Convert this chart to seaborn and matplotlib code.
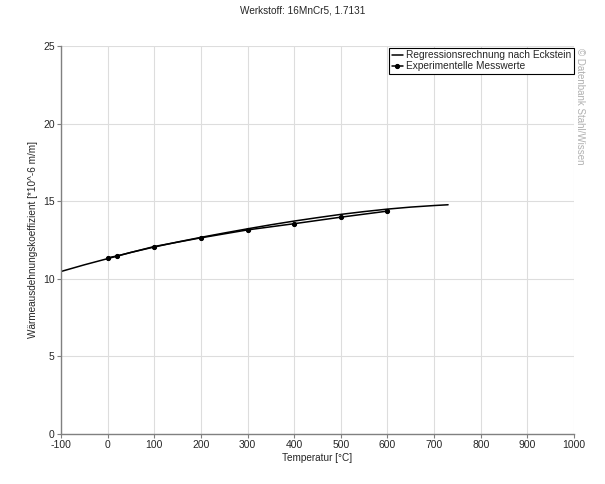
import pandas as pd
import matplotlib
matplotlib.use("Agg")
import matplotlib.pyplot as plt
import seaborn as sns

# Regressionsrechnung nach Eckstein
reg_temp = [-100, -50, 0, 50, 100, 150, 200, 250, 300, 350, 400, 450,
            500, 550, 600, 650, 700, 730]
reg_alpha = [10.47, 10.9, 11.3, 11.7, 12.05, 12.37, 12.67, 12.95, 13.22,
             13.48, 13.72, 13.94, 14.15, 14.33, 14.49, 14.62, 14.72, 14.77]

# Experimentelle Messwerte
mess_temp = [0, 20, 100, 200, 300, 400, 500, 600]
mess_alpha = [11.35, 11.47, 12.08, 12.64, 13.15, 13.55, 13.97, 14.36]

x_ticks = [-100, 0, 100, 200, 300, 400, 500, 600, 700, 800, 900, 1000]
y_ticks = [0, 5, 10, 15, 20, 25]

sns.set_style("white")
plt.rcParams['font.family'] = ['Liberation Sans', 'DejaVu Sans']
plt.rcParams['axes.unicode_minus'] = False

reg = pd.DataFrame({'T': reg_temp, 'a': reg_alpha})
mess = pd.DataFrame({'T': mess_temp, 'a': mess_alpha})

fig = plt.figure(figsize=(6.05, 4.84), dpi=100)
ax = fig.add_axes([0.1008, 0.1033, 0.848, 0.8017])

sns.lineplot(data=reg, x='T', y='a', ax=ax, color='black', linewidth=1.1,
             label='Regressionsrechnung nach Eckstein')
sns.lineplot(data=mess, x='T', y='a', ax=ax, color='black', linewidth=1.1,
             marker='o', markersize=3, markeredgecolor='black',
             label='Experimentelle Messwerte')

ax.set_xlim(-100, 1000)
ax.set_ylim(0, 25)
ax.set_xticks(x_ticks)
ax.set_yticks(y_ticks)
ax.grid(True, color='#dddddd', linewidth=0.8)
ax.tick_params(axis='both', labelsize=7.5, length=3, direction='out',
               color='#808080', pad=1.5, left=True, bottom=True)
for side in ['top', 'right']:
    ax.spines[side].set_visible(False)
for side in ['left', 'bottom']:
    ax.spines[side].set_color('#808080')
    ax.spines[side].set_linewidth(1)

ax.set_xlabel('Temperatur [°C]', fontsize=7.2, labelpad=2)
ax.set_ylabel('Wärmeausdehnungskoeffizient [*10^-6 m/m]', fontsize=7.2,
              labelpad=4)
fig.text(0.5, 0.978, 'Werkstoff: 16MnCr5, 1.7131', ha='center', va='center',
         fontsize=7.2)

leg = ax.legend(loc='upper right', bbox_to_anchor=(1.0, 0.996),
                fontsize=7.3, frameon=True, fancybox=False, framealpha=1,
                edgecolor='black', borderpad=0.25, labelspacing=0.12,
                handlelength=1.1, handletextpad=0.35, borderaxespad=0.0)
leg.get_frame().set_linewidth(0.8)

fig.text(0.958, 0.9, '© Datenbank Stahl/Wissen', rotation=270, ha='center',
         va='top', fontsize=7, color='#b0b0b0')

fig.savefig('out.png', dpi=100)
